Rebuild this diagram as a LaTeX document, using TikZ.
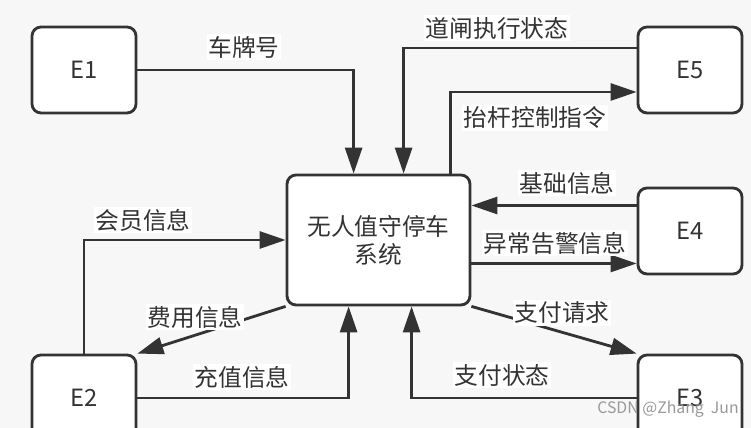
\documentclass[tikz,border=0pt]{standalone}
\usepackage{fontspec}
\setmainfont{Noto Sans CJK SC}
\usetikzlibrary{arrows.meta}
\definecolor{ink}{HTML}{333333}
\definecolor{paper}{HTML}{F7F7F7}
\tikzset{
	ent/.style={draw=ink, line width=1.6pt, fill=white, rounded corners=0.18cm, minimum width=2.08cm, minimum height=1.72cm, text=ink},
	flow/.style={draw=ink, line width=1.6pt, -{Triangle[length=0.52cm,width=0.34cm]}},
	lbl/.style={fill=white, text=ink, inner sep=1pt},
}

\begin{document}
\begin{tikzpicture}[x=0.02cm, y=-0.02cm, font=\fontsize{13.5}{16}\selectfont]
			\fill[paper] (0,0) rectangle (751,428);
			\clip (0,0) rectangle (751,428);
			% entities
			\node[ent] (e1) at (84,70) {E1};
			\node[ent] (e5) at (690,70) {E5};
			\node[ent] (e4) at (690,231) {E4};
			\node[ent] (e2) at (84,398) {E2};
			\node[ent] (e3) at (690,398) {E3};
			\node[ent, minimum width=3.66cm, minimum height=2.6cm, align=center] (sys) at (378.5,240) {无人值守停车\\系统};
			% flows
			\draw[flow] (e1.east) -| ([xshift=1.36cm]sys.north west);
			\draw[flow] ([yshift=0.44cm]e5.west) -| ([xshift=2.36cm]sys.north west);
			\draw[flow] ([xshift=3.3cm]sys.north west) |- ([yshift=-0.44cm]e5.west);
			\draw[flow] ([yshift=0.51cm]e4.west) -- ([yshift=0.51cm]e4.west -| sys.east);
			\draw[flow] ([yshift=-0.65cm]e4.west -| sys.east) -- ([yshift=-0.65cm]e4.west);
			\draw[flow] (e2.north) |- (sys.west);
			\draw[flow] (sys.south west) -- (e2.north east);
			\draw[flow] (e2.east) -| ([xshift=1.26cm]sys.south west);
			\draw[flow] (sys.south east) -- (e3.north west);
			\draw[flow] (e3.west) -| ([xshift=2.52cm]sys.south west);
			% labels
			\node[lbl] (l1) at (244,47) {车牌号};
			\node[lbl] (l2) at (497,28) {道闸执行状态};
			\node[lbl] (l3) at (535,118) {抬杆控制指令};
			\node[lbl] (l4) at (567,183) {基础信息};
			\node[lbl] (l5) at (555,243) {异常告警信息};
			\node[lbl] (l6) at (143,220) {会员信息};
			\node[lbl] (l7) at (195,317) {费用信息};
			\node[lbl] (l8) at (242,377) {充值信息};
			\node[lbl] (l9) at (562,313) {支付请求};
			\node[lbl] (l10) at (502,375) {支付状态};
			\node[text=gray!80, font=\fontsize{9}{11}\selectfont] (wm) at (668,409) {CSDN @Zhang\ \ Jun};
		\end{tikzpicture}
\end{document}
